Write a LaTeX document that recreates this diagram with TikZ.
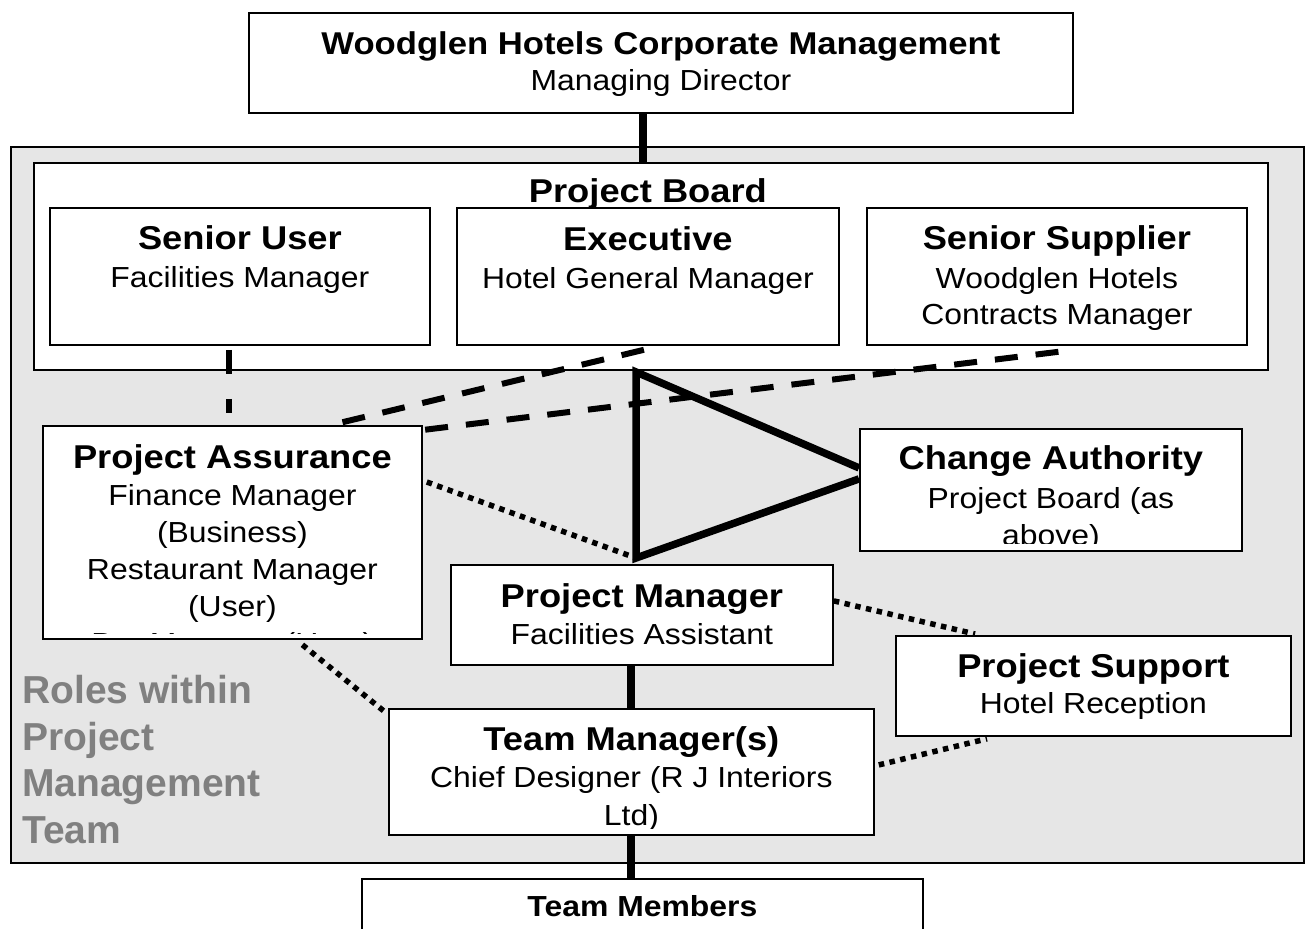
\documentclass[tikz,border=0pt]{standalone}
\usepackage{fontspec}
\setmainfont{Liberation Sans}[FakeStretch=1.1]
\newfontfamily\legendfont{Liberation Sans}
\usetikzlibrary{calc}
\definecolor{panel}{RGB}{230,230,230}
\definecolor{legendgray}{RGB}{128,128,128}

\begin{document}
\begin{tikzpicture}[x=1pt,y=-1pt,
  box/.style={draw=black, line width=1.8pt, fill=white, inner sep=0pt, anchor=north west},
  ttl/.style={font=\bfseries\fontsize{33}{38}\selectfont, inner sep=0pt, anchor=base},
  bdy/.style={font=\fontsize{29}{37}\selectfont, inner sep=0pt, align=center, anchor=base},
  solidlink/.style={line width=7.5pt},
  dashlink/.style={line width=6pt, dash pattern=on 23pt off 18pt},
  dotlink/.style={line width=5.5pt, dash pattern=on 5.5pt off 5.5pt},
]
\useasboundingbox (0,0) rectangle (1305,928);
\fill[white] (0,0) rectangle (1305,928);

% shaded area holding the project management team
\node[box, fill=panel, minimum width=1293pt, minimum height=716pt] (team) at (10,146) {};

% boxes
\node[box, minimum width=824pt, minimum height=100pt] (top) at (248,12) {};
\node[box, minimum width=1234pt, minimum height=207pt] (pb) at (33,162) {};
\node[box, minimum width=380pt, minimum height=137pt] (su) at (49,207) {};
\node[box, minimum width=382pt, minimum height=137pt] (ex) at (456,207) {};
\node[box, minimum width=380pt, minimum height=137pt] (ss) at (866,207) {};
\node[box, minimum width=379pt, minimum height=213pt] (pa) at (42,425) {};
\node[box, minimum width=382pt, minimum height=122pt] (ca) at (859,428) {};
\node[box, minimum width=382pt, minimum height=100pt] (pm) at (450,564) {};
\node[box, minimum width=395pt, minimum height=100pt] (ps) at (895,635) {};
\node[box, minimum width=485pt, minimum height=126pt] (tm) at (388,708) {};
\node[box, minimum width=561pt, minimum height=80pt] (tmem) at (361,878) {};

% solid reporting lines
\coordinate (cx) at (643,0);
\coordinate (cy) at (631,0);
\coordinate (apex) at (636,372);
\coordinate (pmtop) at (636,558);
\draw[solidlink] (top.south -| cx) -- (pb.north -| cx);
\draw[solidlink, line join=miter] ($(ca.west)+(0,-22)$) -- (apex) -- (pmtop) -- ($(ca.west)+(0,-11)$);
\draw[solidlink] (pm.south -| cy) -- (tm.north -| cy);
\draw[solidlink] (tm.south -| cy) -- (tmem.north -| cy);

% assurance lines (dashed)
\draw[dashlink, dash pattern=on 24pt off 25pt] ($(su.south)+(-11,4)$) -- ($(pa.north)+(-3.5,-12)$);
\draw[dashlink] ($(ex.south)+(-4,4)$) -- ($(pa.north)+(98.5,0)$);
\draw[dashlink] ($(ss.south)+(1.5,6)$) -- ($(pa.north east)+(0,5)$);

% support and assurance lines (dotted)
\draw[dotlink] ($(pa.north east)+(4,57)$) -- (pmtop);
\draw[dotlink] ($(pm.east)+(0,-14)$) -- ($(ps.north west)+(80,-1)$);
\draw[dotlink] ($(pa.south)+(70,5)$) -- ($(tm.north west)+(-3,4)$);
\draw[dotlink] ($(tm.east)+(4,-7)$) -- ($(ps.south west)+(92,2)$);

% texts (a multi-line node sits on the baseline of its last line)
\node[ttl, font=\bfseries\fontsize{31.5}{36}\selectfont] (top-t) at ($(top.north)+(0,43)$) {Woodglen Hotels Corporate Management};
\node[bdy] (top-b) at ($(top.north)+(0,79)$) {Managing Director};
\node[ttl] (pb-t) at ($(pb.north)+(-3,40)$) {Project Board};
\node[ttl] (su-t) at ($(su.north)+(0,42)$) {Senior User};
\node[bdy] (su-b) at ($(su.north)+(0,80)$) {Facilities Manager};
\node[ttl] (ex-t) at ($(ex.north)+(0,43)$) {Executive};
\node[bdy] (ex-b) at ($(ex.north)+(0,81)$) {Hotel General Manager};
\node[ttl] (ss-t) at ($(ss.north)+(0,42)$) {Senior Supplier};
\node[bdy, font=\fontsize{29}{36}\selectfont] (ss-b) at ($(ss.north)+(0,117)$) {Woodglen Hotels\\Contracts Manager};
\begin{scope}
  \clip (pa.north west) rectangle ($(pa.south east)+(0,-6)$);
  \node[ttl] (pa-t) at ($(pa.north)+(0,43)$) {Project Assurance};
  \node[bdy] (pa-b) at ($(pa.north)+(0,228)$) {Finance Manager\\(Business)\\Restaurant Manager\\(User)\\Bar Manager (User)};
\end{scope}
\begin{scope}
  \clip (ca.north west) rectangle ($(ca.south east)+(0,-8)$);
  \node[ttl] (ca-t) at ($(ca.north)+(0,41)$) {Change Authority};
  \node[bdy] (ca-b) at ($(ca.north)+(0,117)$) {Project Board (as\\above)};
\end{scope}
\node[ttl] (pm-t) at ($(pm.north)+(0,43)$) {Project Manager};
\node[bdy] (pm-b) at ($(pm.north)+(0,80)$) {Facilities Assistant};
\node[ttl] (ps-t) at ($(ps.north)+(0,42)$) {Project Support};
\node[bdy] (ps-b) at ($(ps.north)+(0,78)$) {Hotel Reception};
\begin{scope}
  \clip (tm.north west) rectangle ($(tm.south east)+(0,-7)$);
  \node[ttl] (tm-t) at ($(tm.north)+(0,42)$) {Team Manager(s)};
  \node[bdy, font=\fontsize{29}{38}\selectfont] (tm-b) at ($(tm.north)+(0,117)$) {Chief Designer (R J Interiors\\Ltd)};
\end{scope}
\node[ttl, font=\bfseries\fontsize{29}{34}\selectfont] (tmem-t) at ($(tmem.north)+(0,38)$) {Team Members};

\node[font=\legendfont\bfseries\fontsize{39}{46.5}\selectfont, text=legendgray, align=left, anchor=base west, inner sep=0pt] (legend) at (22,843) {Roles within\\Project\\Management\\Team};
\end{tikzpicture}
\end{document}
